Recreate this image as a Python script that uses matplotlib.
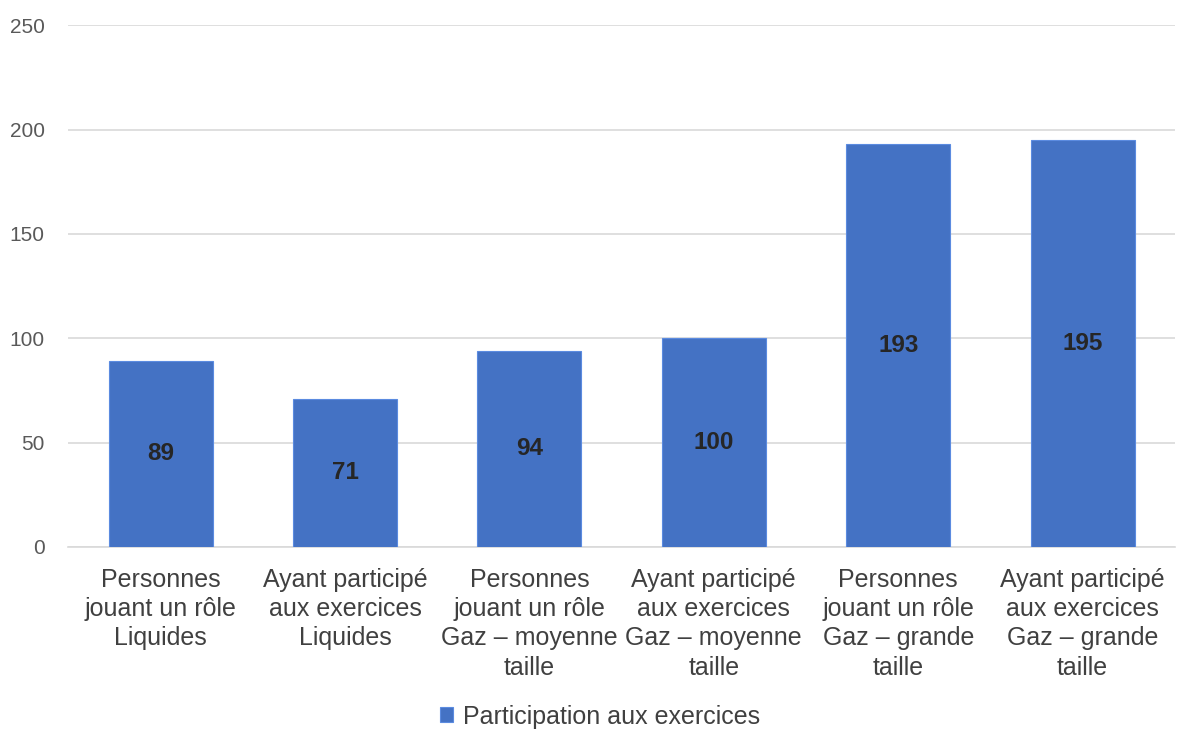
import matplotlib
matplotlib.use("Agg")
import matplotlib.pyplot as plt

categories = [
    "Personnes\njouant un rôle\nLiquides",
    "Ayant participé\naux exercices\nLiquides",
    "Personnes\njouant un rôle\nGaz – moyenne\ntaille",
    "Ayant participé\naux exercices\nGaz – moyenne\ntaille",
    "Personnes\njouant un rôle\nGaz – grande\ntaille",
    "Ayant participé\naux exercices\nGaz – grande\ntaille",
]
values = [89, 71, 94, 100, 193, 195]
series_name = "Participation aux exercices"
yticks = [0, 50, 100, 150, 200, 250]

plt.rcParams['font.family'] = ['Liberation Sans', 'DejaVu Sans']

fig = plt.figure(figsize=(12, 7.48), dpi=100)
ax = fig.add_axes([0.057, 0.269, 0.922, 0.697])

x = list(range(len(values)))
bars = ax.bar(x, values, width=0.565, color="#4472C4", edgecolor="#5B8BE0",
              linewidth=0.8, label=series_name, zorder=3)

for xi, v in zip(x, values):
    ax.text(xi, v / 2, str(v), ha="center", va="center", fontsize=17.5,
            fontweight="bold", color="#262626", zorder=4)

ax.set_xlim(-0.5, len(values) - 0.5)
ax.set_ylim(0, 250)
ax.set_yticks(yticks)
ax.set_yticklabels([str(t) for t in yticks], fontsize=15, color="#595959")
ax.set_xticks(x)
ax.set_xticklabels(categories, fontsize=18, color="#404040", linespacing=1.28)
ax.tick_params(axis="both", length=0)
ax.tick_params(axis="x", pad=15)
ax.tick_params(axis="y", pad=17)
ax.grid(axis="y", color="#D9D9D9", linewidth=1.2, zorder=0)
for s in ["top", "right", "left"]:
    ax.spines[s].set_visible(False)
ax.spines["bottom"].set_color("#D9D9D9")
ax.spines["bottom"].set_linewidth(1.2)

leg = fig.legend(handles=[bars], labels=[series_name], loc="center",
                 bbox_to_anchor=(0.5, 0.042), frameon=False, fontsize=18,
                 handlelength=0.55, handleheight=0.55, handletextpad=0.4)
for t in leg.get_texts():
    t.set_color("#404040")

fig.savefig("out.png", dpi=100, facecolor="white")
